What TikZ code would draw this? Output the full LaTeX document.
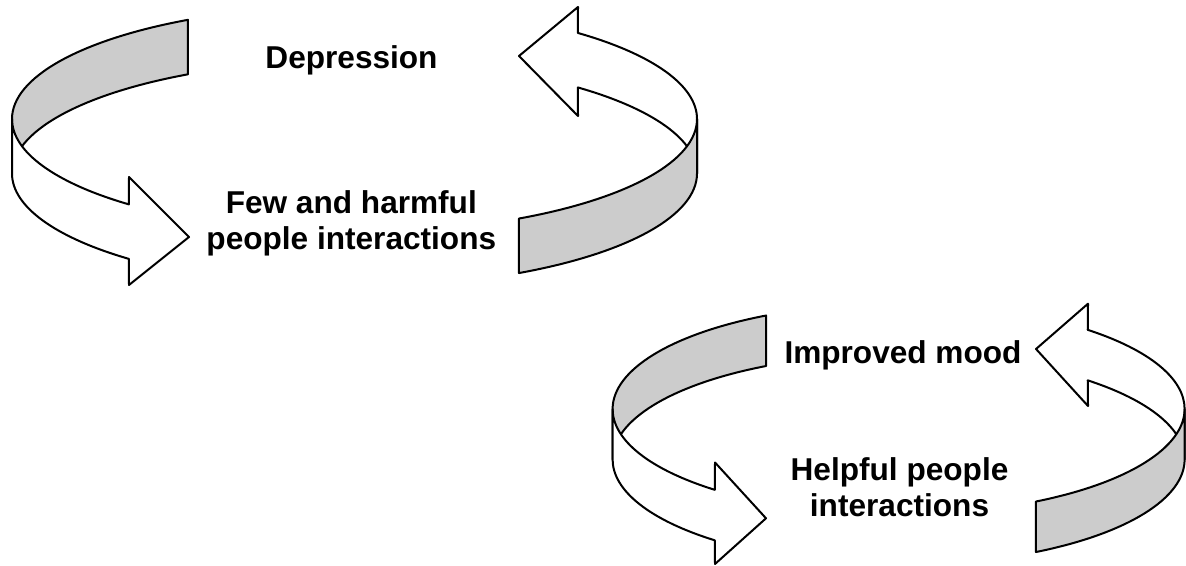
\documentclass[tikz,border=0pt]{standalone}
\usepackage{fontspec}
\setmainfont{Liberation Sans}
\usepackage{tikz}
\definecolor{bandgray}{RGB}{204,204,204}

\begin{document}
\begin{tikzpicture}[x=0.5pt, y=0.5pt,
  font=\fontsize{15.8}{18}\selectfont\bfseries,
  band/.style={draw=black, line width=1pt, line join=round},
  inside/.style={band, fill=bandgray},
  outside/.style={band, fill=white},
  loopA/.style={x radius=342.5, y radius=113.5},
  loopB/.style={x radius=286, y radius=105.5},
  lbl/.style={inner sep=0pt, align=center}]

\useasboundingbox (0,0) rectangle (1186,566);

\coordinate (topA) at (354.5,447);
\coordinate (botA) at (354.5,392.5);
\coordinate (topB) at (898.6,157);
\coordinate (botB) at (898.6,106.5);

% upper loop
\draw[inside] ([shift={(119.1:342.5 and 113.5)}]topA) arc[loopA, start angle=119.1, end angle=180]
  -- ++(0,-54.5) arc[loopA, start angle=180, end angle=119.1] -- cycle;
\draw[outside] ([shift={(180:342.5 and 113.5)}]topA) arc[loopA, start angle=180, end angle=228.8]
  -- (129,389) -- (189,329) -- (129,281)
  -- ([shift={(228.8:342.5 and 113.5)}]botA) arc[loopA, start angle=228.8, end angle=180] -- cycle;
\draw[outside] ([shift={(49.3:342.5 and 113.5)}]topA) arc[loopA, start angle=49.3, end angle=0]
  -- ++(0,-54.5) arc[loopA, start angle=0, end angle=49.3]
  -- (578,450) -- (519,510) -- (578,559) -- cycle;
\draw[inside] ([shift={(0:342.5 and 113.5)}]topA) arc[loopA, start angle=0, end angle=-61.3]
  -- ++(0,-54.5) arc[loopA, start angle=-61.3, end angle=0] -- cycle;

% lower loop
\draw[inside] ([shift={(117.6:286 and 105.5)}]topB) arc[loopB, start angle=117.6, end angle=180]
  -- ++(0,-50.5) arc[loopB, start angle=180, end angle=117.6] -- cycle;
\draw[outside] ([shift={(180:286 and 105.5)}]topB) arc[loopB, start angle=180, end angle=230]
  -- (715,103.5) -- (766,47.7) -- (715,2)
  -- ([shift={(230:286 and 105.5)}]botB) arc[loopB, start angle=230, end angle=180] -- cycle;
\draw[outside] ([shift={(48.6:286 and 105.5)}]topB) arc[loopB, start angle=48.6, end angle=0]
  -- ++(0,-50.5) arc[loopB, start angle=0, end angle=48.6]
  -- (1088,160) -- (1036,217) -- (1088,262.3) -- cycle;
\draw[inside] ([shift={(0:286 and 105.5)}]topB) arc[loopB, start angle=0, end angle=-61.3]
  -- ++(0,-50.5) arc[loopB, start angle=-61.3, end angle=0] -- cycle;

\node[lbl, anchor=base] (depr) at (351.5,497.7) {Depression};
\node[lbl, anchor=base] (few) at (351.3,316) {Few and harmful\\people interactions};
\node[lbl, anchor=base] (mood) at (903,202.7) {Improved mood};
\node[lbl, anchor=base] (help) at (899.5,49.3) {Helpful people\\interactions};

\end{tikzpicture}
\end{document}
